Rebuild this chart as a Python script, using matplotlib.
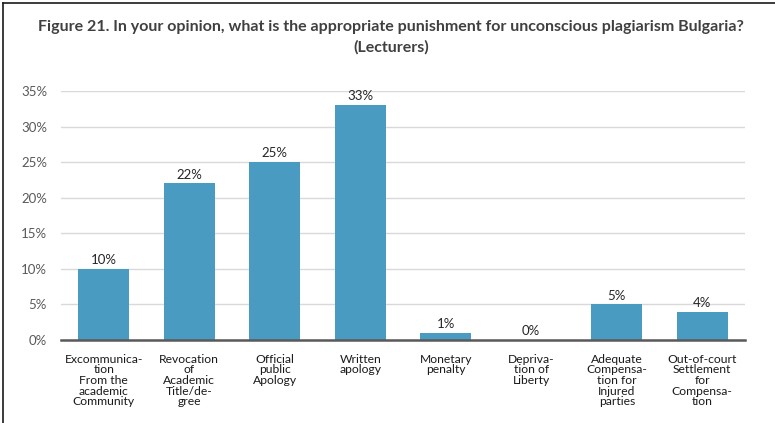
import matplotlib
matplotlib.use("Agg")
import matplotlib.pyplot as plt
from matplotlib.lines import Line2D

categories = [
    "Excommunica-\ntion\nFrom the\nacademic\nCommunity",
    "Revocation\nof\nAcademic\nTitle/de-\ngree",
    "Official\npublic\nApology",
    "Written\napology",
    "Monetary\npenalty",
    "Depriva-\ntion of\nLiberty",
    "Adequate\nCompensa-\ntion for\nInjured\nparties",
    "Out-of-court\nSettlement\nfor\nCompensa-\ntion",
]
values = [10, 22, 25, 33, 1, 0, 5, 4]
yticks = [0, 5, 10, 15, 20, 25, 30, 35]

title = ("Figure 21. In your opinion, what is the appropriate punishment for unconscious plagiarism Bulgaria?\n"
         "(Lecturers)")

plt.rcParams["font.family"] = ["Lato", "DejaVu Sans"]

fig = plt.figure(figsize=(7.75, 4.23), dpi=100)
ax = fig.add_axes([61 / 775, 1 - 340 / 423, (745 - 61) / 775, (340 - 91) / 423])

x = list(range(len(categories)))
ax.bar(x, values, width=0.6, color="#4a9bc1", zorder=3)
for xi, v in zip(x, values):
    ax.annotate(f"{v}%", (xi, v), xytext=(0, 2), textcoords="offset points",
                ha="center", va="bottom", fontsize=9.5, color="#262626")

ax.set_xlim(-0.5, len(categories) - 0.5)
ax.set_ylim(0, 35)
ax.set_yticks(yticks)
ax.set_yticklabels([f"{t}%" for t in yticks], fontsize=9.5, color="#595959")
ax.set_xticks(x)
ax.set_xticklabels(categories, fontsize=8.7, color="#1a1a1a", linespacing=0.95, va="top")
ax.tick_params(axis="both", length=0)
ax.tick_params(axis="y", pad=10)
ax.tick_params(axis="x", pad=10)
ax.grid(axis="y", color="#d9d9d9", linewidth=1, zorder=0)
for s in ["top", "right", "left"]:
    ax.spines[s].set_visible(False)
ax.spines["bottom"].set_color("#595959")
ax.spines["bottom"].set_linewidth(1.8)
ax.spines["bottom"].set_zorder(4)

fig.text(391 / 775, 1 - 37 / 423, title, ha="center", va="center", fontsize=11.5,
         fontweight="bold", color="#404040", linespacing=1.5)

# frame around the figure (top and left edges)
fig.add_artist(Line2D([3 / 775, 3 / 775], [0, 1 - 3 / 423], color="#1a1a1a", lw=1.2))
fig.add_artist(Line2D([3 / 775, 1], [1 - 3 / 423, 1 - 3 / 423], color="#1a1a1a", lw=1.2))

fig.savefig("out.png", dpi=100)
